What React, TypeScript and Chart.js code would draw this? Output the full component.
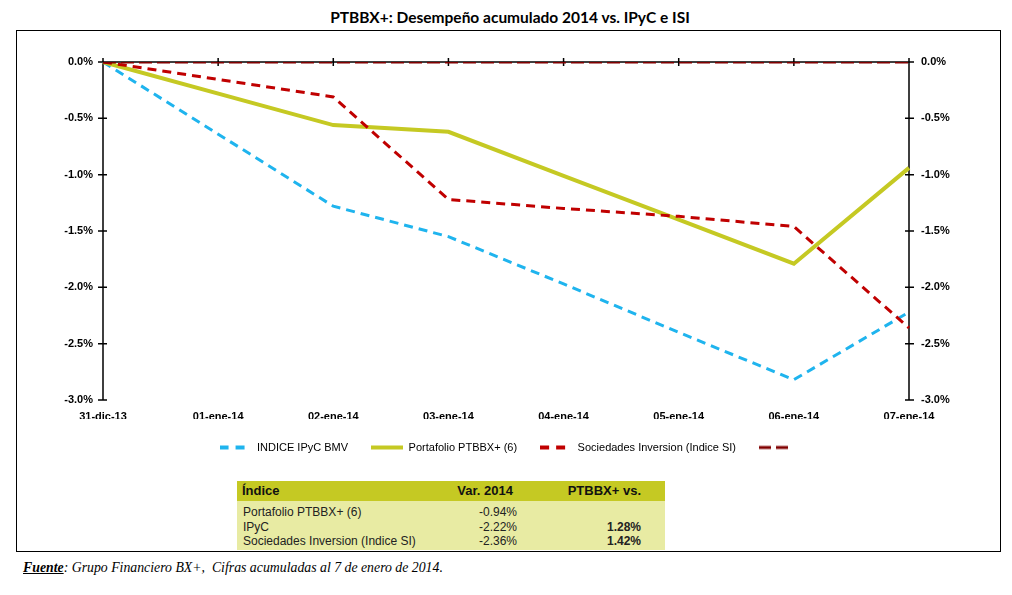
import React, { useEffect, useRef } from "react";
import { Chart, registerables } from "chart.js";

Chart.register(...registerables);

const categories = ["31-dic-13", "01-ene-14", "02-ene-14", "03-ene-14", "04-ene-14", "05-ene-14", "06-ene-14", "07-ene-14"];
const ipycValues = [0, null, -1.28, -1.55, -1.97, -2.4, -2.82, -2.22];
const portafolioValues = [0, null, -0.56, -0.62, -1.01, -1.4, -1.79, -0.94];
const sociedadesValues = [0, null, -0.31, -1.22, -1.3, -1.37, -1.46, -2.36];
const baseValues = [0, 0, 0, 0, 0, 0, 0, 0];
const seriesNames = ["INDICE IPyC BMV", "Portafolio PTBBX+ (6)", "Sociedades Inversion (Indice SI)", ""];
const yTicks = [0, -0.5, -1, -1.5, -2, -2.5, -3];

const tableHeader = ["Índice", "Var. 2014", "PTBBX+ vs."];
const tableRows = [
  ["Portafolio PTBBX+ (6)", "-0.94%", ""],
  ["IPyC", "-2.22%", "1.28%"],
  ["Sociedades Inversion (Indice SI)", "-2.36%", "1.42%"],
];

const BLUE = "#1FB4EE";
const YELLOW = "#C5C923";
const RED = "#C00000";
const DARKRED = "#800000";

function legendLine(color: string, width: number, dash: number[]) {
  const c = document.createElement("canvas");
  c.width = 32;
  c.height = 6;
  const g = c.getContext("2d")!;
  g.strokeStyle = color;
  g.lineWidth = width;
  g.setLineDash(dash);
  g.beginPath();
  g.moveTo(0, 3);
  g.lineTo(32, 3);
  g.stroke();
  return c;
}

const axesPlugin = {
  id: "excelAxes",
  beforeDatasetsDraw(chart: any) {
    const { ctx, chartArea } = chart;
    const x = chart.scales.x;
    const y = chart.scales.y;
    ctx.save();
    ctx.strokeStyle = "#000";
    ctx.lineWidth = 1.5;
    ctx.beginPath();
    const y0 = y.getPixelForValue(0);
    ctx.moveTo(chartArea.left - 4, y0);
    ctx.lineTo(chartArea.right + 4, y0);
    ctx.moveTo(chartArea.left, chartArea.top - 4);
    ctx.lineTo(chartArea.left, chartArea.bottom);
    ctx.moveTo(chartArea.right, chartArea.top - 4);
    ctx.lineTo(chartArea.right, chartArea.bottom);
    categories.forEach((_, i) => {
      const px = x.getPixelForValue(i);
      ctx.moveTo(px, y0 - 4);
      ctx.lineTo(px, y0 + 4);
    });
    yTicks.forEach((v) => {
      const py = y.getPixelForValue(v);
      ctx.moveTo(chartArea.left - 5, py);
      ctx.lineTo(chartArea.left + 4, py);
      ctx.moveTo(chartArea.right - 4, py);
      ctx.lineTo(chartArea.right + 5, py);
    });
    ctx.stroke();
    ctx.restore();
  },
};

function ChartCanvas() {
  const ref = useRef<HTMLCanvasElement | null>(null);
  useEffect(() => {
    if (!ref.current) return;
    const fmt = (v: any) => `${Number(v).toFixed(1)}%`;
    const chart = new Chart(ref.current, {
      type: "line",
      data: {
        labels: categories,
        datasets: [
          {
            label: seriesNames[0],
            data: ipycValues,
            borderColor: BLUE,
            backgroundColor: BLUE,
            borderWidth: 3,
            borderDash: [9, 6],
            pointRadius: 0,
            pointStyle: legendLine(BLUE, 4, [9, 7]),
            spanGaps: true,
            tension: 0,
            order: 3,
          },
          {
            label: seriesNames[1],
            data: portafolioValues,
            borderColor: YELLOW,
            backgroundColor: YELLOW,
            borderWidth: 4,
            pointRadius: 0,
            pointStyle: legendLine(YELLOW, 4, []),
            spanGaps: true,
            tension: 0,
            order: 2,
          },
          {
            label: seriesNames[2],
            data: sociedadesValues,
            borderColor: RED,
            backgroundColor: RED,
            borderWidth: 3,
            borderDash: [9, 6],
            pointRadius: 0,
            pointStyle: legendLine(RED, 4, [9, 7]),
            spanGaps: true,
            tension: 0,
            order: 1,
          },
          {
            label: seriesNames[3],
            data: baseValues,
            borderColor: DARKRED,
            backgroundColor: DARKRED,
            borderWidth: 3,
            borderDash: [13, 5],
            pointRadius: 0,
            pointStyle: legendLine(DARKRED, 3, [12, 5]),
            tension: 0,
            order: 0,
          },
        ],
      },
      options: {
        animation: false,
        responsive: false,
        maintainAspectRatio: false,
        layout: { padding: { top: 31, left: 0, right: 0, bottom: 0 } },
        plugins: {
          title: { display: false },
          tooltip: { enabled: false },
          legend: {
            position: "bottom",
            labels: {
              usePointStyle: true,
              pointStyleWidth: 32,
              padding: 23,
              color: "#000",
              sort: (a: any, b: any) => a.datasetIndex - b.datasetIndex,
              font: { family: "'Liberation Sans', Arial, sans-serif", size: 11 },
            },
          },
        },
        scales: {
          x: {
            type: "category",
            position: "bottom",
            offset: false,
            grid: { display: false, drawTicks: false },
            border: { display: false },
            ticks: {
              color: "#000",
              padding: 10,
              maxRotation: 0,
              autoSkip: false,
              font: { family: "'Liberation Sans', Arial, sans-serif", size: 11, weight: "bold" },
            },
            afterFit: (s: any) => {
              s.height = 19;
            },
          },
          y: {
            position: "left",
            min: -3,
            max: 0,
            grid: { display: false, drawTicks: false },
            border: { display: false },
            ticks: {
              stepSize: 0.5,
              color: "#000",
              padding: 10,
              callback: fmt,
              font: { family: "'Liberation Sans', Arial, sans-serif", size: 11, weight: "bold" },
            },
            afterFit: (s: any) => {
              s.width = 87;
            },
          },
          y2: {
            position: "right",
            min: -3,
            max: 0,
            grid: { display: false, drawTicks: false },
            border: { display: false },
            ticks: {
              stepSize: 0.5,
              color: "#000",
              padding: 12,
              callback: fmt,
              font: { family: "'Liberation Sans', Arial, sans-serif", size: 11, weight: "bold" },
            },
            afterFit: (s: any) => {
              s.width = 91;
            },
          },
        },
      },
      plugins: [axesPlugin],
    } as any);
    return () => chart.destroy();
  }, []);
  return (
    <canvas
      ref={ref}
      width={984}
      height={432}
      style={{ position: "absolute", left: 16, top: 31, width: 984, height: 432 }}
    />
  );
}

export default function App() {
  const cell: React.CSSProperties = { padding: "0 4px", whiteSpace: "nowrap", lineHeight: "14px", overflow: "visible" };
  return (
    <div
      style={{
        position: "absolute",
        left: 0,
        top: 0,
        width: 1012,
        height: 595,
        background: "#fff",
        overflow: "hidden",
      }}
    >
      <div
        style={{
          position: "absolute",
          left: 0,
          top: 7,
          width: 1020,
          textAlign: "center",
          fontFamily: "Lato, 'Open Sans', sans-serif",
          fontWeight: "bold",
          fontSize: 15.5,
          lineHeight: "20px",
          color: "#000",
        }}
      >
        PTBBX+: Desempeño acumulado 2014 vs. IPyC e ISI
      </div>
      <div
        style={{
          position: "absolute",
          left: 16,
          top: 30,
          width: 985,
          height: 522,
          border: "1px solid #000",
          boxSizing: "border-box",
        }}
      />
      <ChartCanvas />
      <table
        style={{
          position: "absolute",
          left: 237,
          top: 481,
          width: 428,
          tableLayout: "fixed",
          borderCollapse: "collapse",
          fontFamily: "'Liberation Sans', Arial, sans-serif",
          color: "#222",
        }}
      >
        <colgroup>
          <col style={{ width: 200 }} />
          <col style={{ width: 80 }} />
          <col style={{ width: 148 }} />
        </colgroup>
        <thead>
          <tr style={{ background: "#C5C923", height: 20, fontWeight: "bold", fontSize: 13, color: "#111" }}>
            <th style={{ ...cell, textAlign: "left", paddingLeft: 5 }}>{tableHeader[0]}</th>
            <th style={{ ...cell, textAlign: "right", paddingRight: 4, paddingLeft: 0 }}>{tableHeader[1]}</th>
            <th style={{ ...cell, textAlign: "right", paddingRight: 24 }}>{tableHeader[2]}</th>
          </tr>
        </thead>
        <tbody style={{ background: "#E8EBA3", fontSize: 12 }}>
          {tableRows.map((r, i) => (
            <tr key={i} style={{ height: i === 0 ? 18 : 15 }}>
              <td style={{ ...cell, textAlign: "left", verticalAlign: "bottom", paddingLeft: 6, paddingBottom: i === 2 ? 2 : 0 }}>{r[0]}</td>
              <td style={{ ...cell, textAlign: "right", verticalAlign: "bottom", paddingRight: 0, paddingLeft: 0, paddingBottom: i === 2 ? 2 : 0 }}>{r[1]}</td>
              <td style={{ ...cell, textAlign: "right", fontWeight: "bold", paddingRight: 24, verticalAlign: "bottom", paddingBottom: i === 2 ? 2 : 0 }}>{r[2]}</td>
            </tr>
          ))}
        </tbody>
      </table>
      <div
        style={{
          position: "absolute",
          left: 23,
          top: 560,
          fontFamily: "'Liberation Serif', 'DejaVu Serif', serif",
          fontStyle: "italic",
          fontSize: 13.8,
          color: "#000",
          whiteSpace: "pre",
        }}
      >
        <span style={{ fontWeight: "bold", textDecoration: "underline" }}>Fuente</span>
        {": Grupo Financiero BX+,  Cifras acumuladas al 7 de enero de 2014."}
      </div>
    </div>
  );
}
